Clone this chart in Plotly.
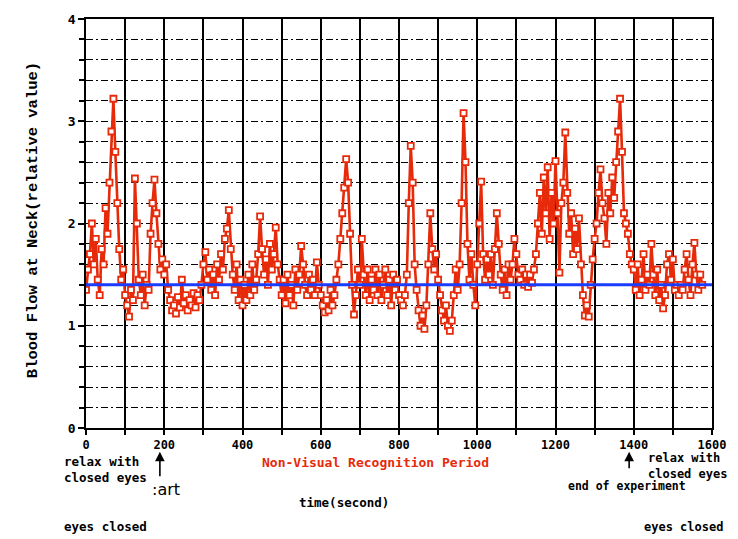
import plotly.graph_objects as go

# ---------------- data ----------------
time_step = 5
flow_values = [
    # 0-95
    1.35, 1.55, 1.70, 2.00, 1.60, 1.85, 1.45, 1.30, 1.75, 1.60, 2.15, 1.90, 2.40, 2.90, 3.22, 2.70, 2.20, 1.75, 1.45, 1.55,
    # 100-195
    1.30, 1.20, 1.09, 1.35, 1.25, 2.44, 2.00, 1.45, 1.30, 1.50, 1.20, 1.40, 1.35, 1.90, 2.20, 2.43, 2.10, 1.80, 1.55, 1.65,
    # 200-295
    1.50, 1.60, 1.35, 1.25, 1.15, 1.20, 1.12, 1.28, 1.18, 1.45, 1.22, 1.30, 1.15, 1.25, 1.20, 1.32, 1.18, 1.30, 1.25, 1.40,
    # 300-395
    1.60, 1.72, 1.45, 1.55, 1.35, 1.50, 1.30, 1.60, 1.45, 1.70, 1.55, 1.85, 1.95, 2.13, 1.75, 1.50, 1.35, 1.60, 1.25, 1.45,
    # 400-495
    1.20, 1.40, 1.25, 1.50, 1.30, 1.60, 1.35, 1.45, 1.70, 2.07, 1.75, 1.50, 1.65, 1.40, 1.80, 1.55, 1.70, 1.96, 1.60, 1.45,
    # 500-595
    1.30, 1.45, 1.22, 1.50, 1.30, 1.40, 1.20, 1.55, 1.35, 1.50, 1.78, 1.60, 1.40, 1.30, 1.50, 1.35, 1.45, 1.30, 1.62, 1.40,
    # 600-695
    1.30, 1.20, 1.13, 1.25, 1.15, 1.35, 1.20, 1.30, 1.45, 1.60, 1.85, 2.10, 2.35, 2.63, 2.40, 1.90, 1.40, 1.11, 1.30, 1.55,
    # 700-795
    1.40, 1.85, 1.50, 1.30, 1.55, 1.25, 1.45, 1.35, 1.55, 1.30, 1.50, 1.25, 1.40, 1.55, 1.30, 1.45, 1.20, 1.50, 1.35, 1.45,
    # 800-895
    1.30, 1.25, 1.20, 1.30, 1.50, 2.20, 2.76, 2.40, 1.60, 1.35, 1.15, 1.00, 1.10, 0.97, 1.20, 1.60, 2.10, 1.75, 1.55, 1.70,
    # 900-995
    1.45, 1.30, 1.15, 1.05, 1.20, 1.00, 0.95, 1.05, 1.30, 1.55, 1.35, 1.60, 2.20, 3.08, 2.60, 1.80, 1.45, 1.70, 1.40, 1.20,
    # 1000-1095
    1.60, 2.00, 2.41, 1.70, 1.45, 1.65, 1.50, 1.70, 1.40, 1.75, 2.10, 1.80, 1.50, 1.35, 1.55, 1.30, 1.60, 1.45, 1.60, 1.85,
    # 1100-1195
    1.70, 1.50, 1.45, 1.55, 1.40, 1.50, 1.38, 1.50, 1.42, 1.55, 1.70, 2.00, 2.30, 1.90, 2.45, 2.10, 2.55, 1.85, 2.30, 2.00,
    # 1200-1295
    2.61, 2.10, 1.52, 2.20, 2.40, 2.89, 2.30, 1.90, 2.10, 1.70, 1.95, 1.75, 2.05, 1.60, 1.30, 1.10, 1.20, 1.09, 1.40, 1.65,
    # 1300-1395
    1.85, 2.00, 2.30, 2.53, 2.20, 2.05, 1.80, 2.30, 2.10, 2.45, 2.25, 2.60, 2.90, 3.22, 2.70, 2.10, 2.00, 1.90, 1.70, 1.60,
    # 1400-1495
    1.55, 1.35, 1.60, 1.30, 1.45, 1.70, 1.35, 1.50, 1.40, 1.80, 1.50, 1.30, 1.55, 1.25, 1.40, 1.17, 1.30, 1.60, 1.70, 1.45,
    # 1500-1575
    1.65, 1.35, 1.40, 1.30, 1.40, 1.35, 1.55, 1.70, 1.45, 1.30, 1.60, 1.81, 1.50, 1.35, 1.50, 1.40,
]
time_seconds = [i * time_step for i in range(len(flow_values))]

baseline_x = [0, 1600]
baseline_value = 1.4

x_ticks = [0, 200, 400, 600, 800, 1000, 1200, 1400, 1600]
y_ticks = [0, 1, 2, 3, 4]

# ---------------- figure ----------------
W, H = 738, 539
L, R, T, B = 86, 25, 13, 111
PW, PH = W - L - R, H - T - B

def px(xp):
    return (xp - L) / PW

def py(yp):
    return (H - B - yp) / PH

FONT = "DejaVu Sans Mono"
RED = "#e62a0a"

fig = go.Figure()
fig.add_trace(go.Scatter(
    x=time_seconds, y=flow_values, mode="lines+markers",
    line=dict(color=RED, width=2.6),
    marker=dict(symbol="square", size=6, color="white", line=dict(color=RED, width=1.8)),
    hoverinfo="x+y", showlegend=False,
))
fig.add_trace(go.Scatter(
    x=baseline_x, y=[baseline_value] * len(baseline_x), mode="lines",
    line=dict(color="#1a3cff", width=3), showlegend=False,
))

fig.update_layout(
    width=W, height=H,
    margin=dict(l=L, r=R, t=T, b=B),
    paper_bgcolor="white", plot_bgcolor="white",
    font=dict(family=FONT, color="black", size=12),
    showlegend=False,
)
fig.update_xaxes(
    range=[0, 1600], tickvals=x_ticks, ticktext=[str(v) for v in x_ticks],
    showgrid=True, gridcolor="black", gridwidth=1.5,
    minor=dict(dtick=100, showgrid=True, gridcolor="black", gridwidth=1.5,
               ticks="outside", ticklen=5, tickcolor="black"),
    ticks="outside", ticklen=5, tickcolor="black", tickwidth=1.5,
    showline=True, linecolor="black", linewidth=1.5, mirror=True,
    tickfont=dict(family=FONT, size=12, weight="bold"),
    zeroline=False,
)
fig.update_yaxes(
    range=[0, 4], tickvals=y_ticks, ticktext=[str(v) for v in y_ticks],
    showgrid=True, gridcolor="black", gridwidth=1.2, griddash="7px,3px,2px,3px",
    minor=dict(dtick=0.2, showgrid=True, gridcolor="black", gridwidth=1.2,
               griddash="7px,3px,2px,3px", ticks="outside", ticklen=5, tickcolor="black"),
    ticks="outside", ticklen=6, tickcolor="black", tickwidth=1.5,
    showline=True, linecolor="black", linewidth=1.5, mirror=True,
    tickfont=dict(family=FONT, size=13, weight="bold"),
    zeroline=False,
)

def note(text, x, y, xanchor="left", size=12, color="black", weight="bold", family=FONT):
    fig.add_annotation(
        text=text, x=px(x), y=py(y), xref="paper", yref="paper",
        xanchor=xanchor, yanchor="middle", showarrow=False, align="left",
        font=dict(family=family, size=size, color=color, weight=weight),
    )

note("relax with<br>closed eyes", 62, 470, size=12.5)
note(":art", 150, 490, size=16, weight="normal", family="DejaVu Sans")
note("Non-Visual Recognition Period", 376, 463, xanchor="center", size=13, color=RED)
note("time(second)", 344, 504, xanchor="center", size=12.5)
note("eyes closed", 62, 528, size=12.5)
note("eyes closed", 643, 528, size=12)
note("relax with<br>closed eyes", 647, 467, size=12)
note("end of experiment", 567, 487, size=11.5)

for ax_x, head_y, tail_y in [(160, 452, 478), (630, 452, 470)]:
    fig.add_annotation(
        x=px(ax_x), y=py(head_y), xref="paper", yref="paper", text="",
        showarrow=True, ax=0, ay=tail_y - head_y, arrowhead=2, arrowsize=1.2,
        arrowwidth=1.6, arrowcolor="black",
    )

fig.add_annotation(
    text="Blood Flow at Neck(relative value)", x=px(22), y=py(217),
    xref="paper", yref="paper", showarrow=False, textangle=-90,
    font=dict(family="Liberation Mono", size=15.5, weight="bold"),
)

fig.write_html("out.html")
